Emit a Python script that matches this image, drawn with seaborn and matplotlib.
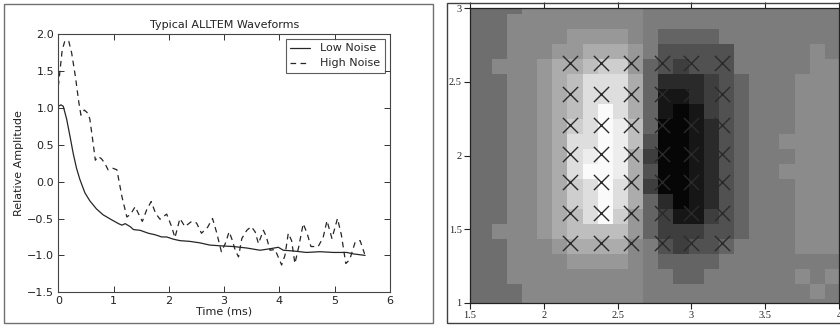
import numpy as np
import pandas as pd
import matplotlib
matplotlib.use("Agg")
import matplotlib.pyplot as plt
from matplotlib.patches import Rectangle
import seaborn as sns

# ---------------- data: left panel ----------------
low_t = [0.00, 0.05, 0.09, 0.15, 0.21, 0.27, 0.33, 0.39, 0.48, 0.57, 0.69, 0.81, 0.97,
         1.09, 1.15, 1.21, 1.30, 1.36, 1.48, 1.63, 1.75, 1.87, 1.96, 2.08, 2.20, 2.38,
         2.56, 2.74, 2.93, 3.17, 3.41, 3.65, 3.83, 3.98, 4.07, 4.25, 4.49, 4.73, 4.98,
         5.22, 5.34, 5.55]
low_amp = [1.02, 1.04, 1.02, 0.85, 0.62, 0.38, 0.18, 0.03, -0.15, -0.26, -0.37, -0.45, -0.52,
           -0.57, -0.59, -0.57, -0.61, -0.65, -0.66, -0.70, -0.72, -0.75, -0.75, -0.78, -0.80, -0.81,
           -0.83, -0.86, -0.87, -0.88, -0.90, -0.93, -0.91, -0.89, -0.93, -0.94, -0.96, -0.95, -0.96,
           -0.96, -0.98, -1.00]

high_t = [0.00, 0.07, 0.12, 0.19, 0.24, 0.31, 0.37, 0.41, 0.47, 0.53, 0.57, 0.63, 0.67, 0.72,
          0.78, 0.84, 0.90, 0.99, 1.06, 1.15, 1.24, 1.31, 1.39, 1.46, 1.52, 1.60, 1.68, 1.76,
          1.84, 1.96, 2.05, 2.11, 2.20, 2.29, 2.41, 2.50, 2.59, 2.70, 2.79, 2.86, 2.95, 3.02,
          3.09, 3.15, 3.20, 3.26, 3.32, 3.41, 3.49, 3.56, 3.62, 3.71, 3.76, 3.83, 3.92, 4.04,
          4.10, 4.16, 4.22, 4.28, 4.35, 4.43, 4.50, 4.57, 4.70, 4.79, 4.86, 4.95, 5.05, 5.12,
          5.20, 5.27, 5.37, 5.46, 5.54]
high_amp = [1.29, 1.78, 1.91, 1.90, 1.75, 1.42, 1.08, 0.90, 0.97, 0.93, 0.85, 0.52, 0.29, 0.34,
            0.31, 0.25, 0.16, 0.18, 0.16, -0.20, -0.48, -0.44, -0.34, -0.45, -0.54, -0.38, -0.27, -0.43,
            -0.51, -0.44, -0.61, -0.76, -0.50, -0.61, -0.54, -0.56, -0.70, -0.62, -0.50, -0.68, -0.95, -0.84,
            -0.68, -0.80, -0.93, -1.02, -0.77, -0.66, -0.61, -0.68, -0.84, -0.66, -0.74, -0.93, -0.92, -1.13,
            -1.00, -0.70, -0.80, -1.11, -0.88, -0.57, -0.70, -0.88, -0.88, -0.76, -0.53, -0.77, -0.50, -0.72,
            -1.11, -1.06, -0.82, -0.80, -0.98]

x_ticks_left = [0, 1, 2, 3, 4, 5, 6]
y_ticks_left = [-1.5, -1.0, -0.5, 0.0, 0.5, 1.0, 1.5, 2.0]

# ---------------- data: right panel ----------------
# grey level of each cell (0 = black, 255 = white), rows from top (y=3.06) to bottom
A, B, C, D, E, F, G, H, I, J, K = 110, 124, 136, 152, 172, 190, 206, 222, 237, 250, 139
P, Q, R, S, T, U = 100, 82, 62, 42, 22, 6
cell_level = [
    [A, A, A, A, C, C, C, C, C, C, C, C, B, B, B, B, B, B, B, B, B, B, B, B, B],
    [A, A, A, C, C, C, C, C, C, C, C, C, B, B, B, B, B, B, B, B, B, B, B, B, B],
    [A, A, A, C, C, C, C, D, D, D, D, C, B, P, P, P, P, B, B, B, B, B, B, B, B],
    [A, A, A, C, C, C, D, D, E, E, E, D, B, Q, Q, Q, Q, Q, B, B, B, B, B, K, B],
    [A, A, C, C, C, D, E, E, F, G, G, D, P, Q, R, Q, Q, Q, B, B, B, B, B, K, K],
    [A, A, A, C, C, D, E, F, H, H, H, E, P, S, S, S, R, Q, P, B, B, B, K, K, K],
    [A, A, A, C, C, D, E, F, H, H, H, E, P, T, T, S, R, Q, P, B, B, B, K, K, K],
    [A, A, A, C, C, D, E, F, H, J, H, E, P, T, U, T, R, Q, P, B, B, B, K, K, K],
    [A, A, A, C, C, D, E, G, H, J, I, F, P, U, U, T, S, Q, P, B, B, B, K, K, K],
    [A, A, A, C, C, D, E, H, H, J, I, F, Q, U, U, T, S, Q, P, B, B, K, K, K, K],
    [A, A, A, C, C, D, E, H, I, J, I, E, R, U, U, T, S, Q, P, B, B, B, K, K, K],
    [A, A, A, C, C, D, E, H, J, J, I, E, Q, U, U, T, S, Q, P, B, B, K, K, K, K],
    [A, A, A, C, C, D, E, G, H, J, H, E, R, U, U, T, S, Q, P, B, B, B, K, K, K],
    [A, A, A, C, C, D, E, G, H, J, H, E, P, S, U, T, S, Q, P, B, B, B, K, K, K],
    [A, A, A, C, C, D, E, F, H, J, G, D, P, R, T, T, R, Q, P, B, B, B, K, K, K],
    [A, A, C, C, C, D, E, F, F, F, F, D, P, R, R, R, Q, Q, P, B, B, B, K, K, K],
    [A, A, A, C, C, C, D, E, E, E, E, C, B, Q, R, Q, Q, P, B, B, B, B, K, K, K],
    [A, A, A, C, C, C, C, D, D, D, D, C, B, P, P, P, P, B, B, B, B, B, B, B, B],
    [A, A, A, C, C, C, C, C, C, C, C, C, B, B, P, P, B, B, B, B, B, B, K, B, K],
    [A, A, A, A, C, C, C, C, C, C, C, C, B, B, B, B, B, B, B, B, B, B, B, K, B],
    [A, A, A, A, C, C, C, C, C, C, C, C, B, B, B, B, B, B, B, B, B, B, B, B, B],
]
grid_extent = [1.442, 4.007, 0.923, 3.059]   # left, right, bottom, top of the cell grid
cross_x = [2.18, 2.39, 2.59, 2.80, 3.00, 3.21]
cross_y = [1.41, 1.61, 1.82, 2.01, 2.21, 2.42, 2.63]
x_ticks_right = [1.5, 2, 2.5, 3, 3.5, 4]
x_tick_labels_right = ["1.5", "2", "2.5", "3", "3.5", "4"]
y_ticks_right = [1, 1.5, 2, 2.5, 3]
y_tick_labels_right = ["1", "1.5", "2", "2.5", "3"]

# ---------------- figure ----------------
sns.set_style("white")
plt.rcParams["font.family"] = ["DejaVu Sans"]
plt.rcParams["axes.unicode_minus"] = True

fig = plt.figure(figsize=(8.4, 3.28), dpi=100)
W, Hh = 840.0, 328.0

# panel frames
fig.patches.append(Rectangle((4 / W, 1 - 323 / Hh), (432.7 - 4) / W, (323 - 4) / Hh,
                             transform=fig.transFigure, fill=False, edgecolor="#707070", lw=1.0))
fig.patches.append(Rectangle((446.7 / W, 1 - 323 / Hh), (842 - 446.7) / W, (323 - 3) / Hh,
                             transform=fig.transFigure, fill=False, edgecolor="#404040", lw=1.0))

# ---- left panel ----
axL = fig.add_axes([58.3 / W, 1 - 292.3 / Hh, (390 - 58.3) / W, (292.3 - 34) / Hh])
low_df = pd.DataFrame({"t": low_t, "amp": low_amp})
high_df = pd.DataFrame({"t": high_t, "amp": high_amp})
sns.lineplot(data=low_df, x="t", y="amp", ax=axL, color="#262626", lw=0.9,
             estimator=None, sort=False, label="Low Noise")
sns.lineplot(data=high_df, x="t", y="amp", ax=axL, color="#262626", lw=0.9,
             estimator=None, sort=False, label="High Noise", linestyle=(0, (4.5, 3.5)))
axL.set_xlim(0, 6)
axL.set_ylim(-1.5, 2.0)
axL.set_xticks(x_ticks_left)
axL.set_yticks(y_ticks_left)
axL.set_xticklabels([str(v) for v in x_ticks_left])
axL.set_yticklabels([f"{v:.1f}".replace("-", "\u2212") for v in y_ticks_left])
axL.tick_params(direction="in", length=4, width=0.7, colors="#333333", labelsize=8,
                top=True, right=True, bottom=True, left=True, pad=3, labelcolor="#222222")
for sp in axL.spines.values():
    sp.set_visible(True)
    sp.set_color("#444444")
    sp.set_linewidth(0.8)
axL.set_title("Typical ALLTEM Waveforms", fontsize=8, color="#222222", pad=4)
axL.set_xlabel("Time (ms)", fontsize=8, color="#222222", labelpad=0)
axL.set_ylabel("Relative Amplitude", fontsize=8, color="#222222", labelpad=2)
leg = axL.legend(loc="upper right", fontsize=8, frameon=True, fancybox=False,
                 edgecolor="#333333", handlelength=1.8, borderpad=0.4, labelspacing=0.45,
                 handletextpad=0.9, borderaxespad=0.45)
leg.get_frame().set_linewidth(0.8)

# ---- right panel ----
axR = fig.add_axes([470 / W, 1 - 303 / Hh, (839 - 470) / W, (303 - 8) / Hh])
axR.imshow(np.array(cell_level), cmap="gray", vmin=0, vmax=255, extent=grid_extent,
           origin="upper", interpolation="nearest", aspect="auto")
cx, cy = np.meshgrid(cross_x, cross_y)
sns.scatterplot(x=cx.ravel(), y=cy.ravel(), ax=axR, marker="x", s=120,
                color="#2a2a2a", linewidth=1.0, legend=False, zorder=3)
axR.set_xlim(1.5, 4)
axR.set_ylim(1, 3)
axR.set_xticks(x_ticks_right)
axR.set_xticklabels(x_tick_labels_right)
axR.set_yticks(y_ticks_right)
axR.set_yticklabels(y_tick_labels_right)
serif = ["Liberation Serif", "DejaVu Serif"]
for lab in axR.get_xticklabels() + axR.get_yticklabels():
    lab.set_family(serif)
    lab.set_fontsize(7.5)
axR.tick_params(direction="out", length=4, width=0.8, colors="#222222",
                top=True, right=True, bottom=True, left=True, pad=2)
for sp in axR.spines.values():
    sp.set_visible(True)
    sp.set_color("#222222")
    sp.set_linewidth(0.9)

fig.savefig("out.png", dpi=100)
